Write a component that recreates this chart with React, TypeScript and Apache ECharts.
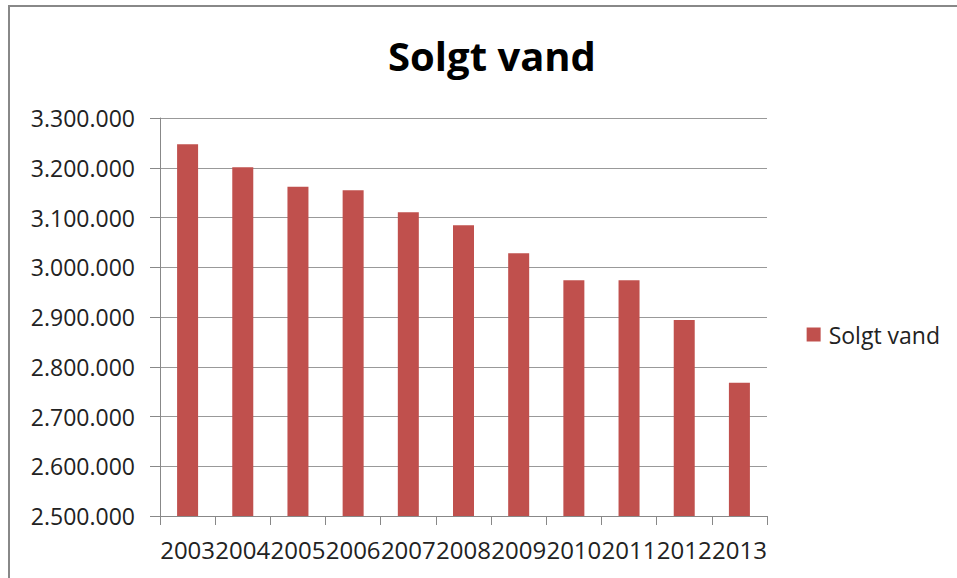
import React, { useEffect, useRef } from "react";
import * as echarts from "echarts";

const years = ["2003", "2004", "2005", "2006", "2007", "2008", "2009", "2010", "2011", "2012", "2013"];
const solgtVand = [3247000, 3201000, 3162000, 3155000, 3110500, 3084300, 3028000, 2973700, 2973700, 2894000, 2768000];
const seriesName = "Solgt vand";
const titleText = "Solgt vand";

const FONT = "'Open Sans', 'Noto Sans', sans-serif";

function fmt(v: number): string {
  return String(Math.round(v)).replace(/\B(?=(\d{3})+(?!\d))/g, ".");
}

export default function App() {
  const ref = useRef<HTMLDivElement>(null);
  useEffect(() => {
    if (!ref.current) return;
    const chart = echarts.init(ref.current, null, { renderer: "svg" });
    chart.setOption({
      animation: false,
      backgroundColor: "#ffffff",
      textStyle: { fontFamily: FONT },
      title: {
        text: titleText,
        left: 487,
        top: 30,
        textAlign: "center",
        textStyle: { fontSize: 40, fontWeight: "bold", color: "#000000", fontFamily: FONT },
      },
      legend: {
        right: 12,
        top: 318,
        orient: "vertical",
        itemWidth: 14,
        itemHeight: 14,
        icon: "rect",
        itemGap: 6,
        textStyle: { fontSize: 23, color: "#222", fontFamily: FONT, padding: [0, 0, 0, 3] },
        data: [seriesName],
      },
      grid: { left: 160, right: 190, top: 118, bottom: 62, containLabel: false },
      xAxis: {
        type: "category",
        data: years,
        axisLine: { show: true, lineStyle: { color: "#888888", width: 1 } },
        axisTick: { show: true, length: 9, alignWithLabel: false, lineStyle: { color: "#888888" } },
        axisLabel: { fontSize: 24, color: "#222", margin: 21, interval: 0, fontFamily: FONT },
      },
      yAxis: {
        type: "value",
        min: 2500000,
        max: 3300000,
        interval: 100000,
        axisLine: { show: true, lineStyle: { color: "#888888", width: 1 } },
        axisTick: { show: true, length: 10, lineStyle: { color: "#888888" } },
        splitLine: { show: true, lineStyle: { color: "#999999", width: 1 } },
        axisLabel: { fontSize: 23, color: "#222", margin: 25, formatter: (v: number) => fmt(v), fontFamily: FONT },
      },
      series: [
        {
          name: seriesName,
          type: "bar",
          data: solgtVand,
          barWidth: 21,
          itemStyle: { color: "#C0504D" },
        },
      ],
      graphic: [
        {
          type: "rect",
          shape: { x: 9, y: 6, width: 960, height: 580 },
          style: { fill: "none", stroke: "#888888", lineWidth: 2 },
          silent: true,
        },
      ],
    });
    return () => chart.dispose();
  }, []);
  return <div ref={ref} style={{ position: "fixed", left: 0, top: 0, width: 957, height: 578 }} />;
}
